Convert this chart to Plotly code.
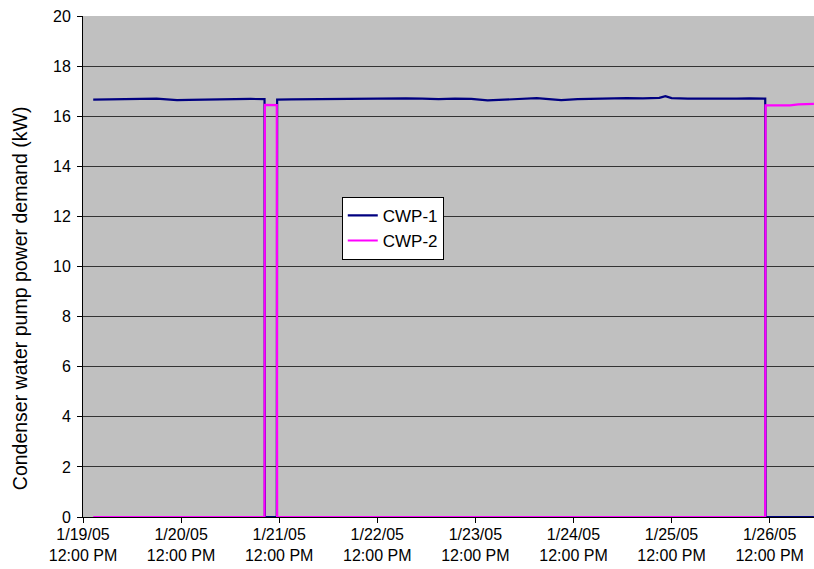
import plotly.graph_objects as go

# ---- data ----
cwp1_time = [
    "2005-01-19 14:30", "2005-01-19 18:00", "2005-01-19 21:00", "2005-01-20 00:00",
    "2005-01-20 03:00", "2005-01-20 06:00", "2005-01-20 08:30", "2005-01-20 11:00",
    "2005-01-20 14:00", "2005-01-20 17:00", "2005-01-20 20:00", "2005-01-20 23:00",
    "2005-01-21 02:00", "2005-01-21 05:00", "2005-01-21 08:25", "2005-01-21 08:30",
    "2005-01-21 11:25", "2005-01-21 11:30", "2005-01-21 15:00", "2005-01-21 19:00",
    "2005-01-21 23:00", "2005-01-22 03:00", "2005-01-22 07:00", "2005-01-22 11:00",
    "2005-01-22 15:00", "2005-01-22 19:00", "2005-01-22 23:00", "2005-01-23 03:00",
    "2005-01-23 07:00", "2005-01-23 11:00", "2005-01-23 15:00", "2005-01-23 19:00",
    "2005-01-23 23:00", "2005-01-24 03:00", "2005-01-24 06:00", "2005-01-24 09:00",
    "2005-01-24 13:00", "2005-01-24 17:00", "2005-01-24 21:00", "2005-01-25 01:00",
    "2005-01-25 05:00", "2005-01-25 09:00", "2005-01-25 10:30", "2005-01-25 12:00",
    "2005-01-25 16:00", "2005-01-25 20:00", "2005-01-26 00:00", "2005-01-26 04:00",
    "2005-01-26 07:00", "2005-01-26 10:55", "2005-01-26 11:00", "2005-01-26 22:50",
]
cwp1_kw = [
    16.66, 16.67, 16.68, 16.70,
    16.71, 16.70, 16.67, 16.64,
    16.65, 16.66, 16.67, 16.69,
    16.70, 16.69, 16.68, 0.0,
    0.0, 16.66, 16.67, 16.68,
    16.69, 16.70, 16.70, 16.71,
    16.70, 16.71, 16.70, 16.68,
    16.70, 16.69, 16.63, 16.66,
    16.69, 16.72, 16.68, 16.64,
    16.68, 16.70, 16.72, 16.72,
    16.71, 16.73, 16.80, 16.72,
    16.70, 16.69, 16.69, 16.70,
    16.71, 16.70, 0.0, 0.0,
]

cwp2_time = [
    "2005-01-19 14:30", "2005-01-21 08:25", "2005-01-21 08:30", "2005-01-21 10:00",
    "2005-01-21 11:25", "2005-01-21 11:30", "2005-01-26 10:55", "2005-01-26 11:00",
    "2005-01-26 13:00", "2005-01-26 15:00", "2005-01-26 17:00", "2005-01-26 19:00",
    "2005-01-26 21:00", "2005-01-26 22:50",
]
cwp2_kw = [
    0.0, 0.0, 16.45, 16.43,
    16.44, 0.0, 0.0, 16.43,
    16.42, 16.44, 16.43, 16.47,
    16.48, 16.49,
]

tick_vals = [
    "2005-01-19 12:00", "2005-01-20 12:00", "2005-01-21 12:00", "2005-01-22 12:00",
    "2005-01-23 12:00", "2005-01-24 12:00", "2005-01-25 12:00", "2005-01-26 12:00",
]
tick_text = [
    "1/19/05<br>12:00 PM", "1/20/05<br>12:00 PM", "1/21/05<br>12:00 PM", "1/22/05<br>12:00 PM",
    "1/23/05<br>12:00 PM", "1/24/05<br>12:00 PM", "1/25/05<br>12:00 PM", "1/26/05<br>12:00 PM",
]
x_range = ["2005-01-19 12:00", "2005-01-26 22:51"]
y_ticks = [0, 2, 4, 6, 8, 10, 12, 14, 16, 18, 20]

FONT = "Liberation Sans, Arial, sans-serif"

fig = go.Figure()
fig.add_trace(go.Scatter(x=cwp1_time, y=cwp1_kw, mode="lines", name="CWP-1",
                         line=dict(color="#000080", width=2.2)))
fig.add_trace(go.Scatter(x=cwp2_time, y=cwp2_kw, mode="lines", name="CWP-2",
                         line=dict(color="#FF00FF", width=2.2)))

fig.update_layout(
    width=814, height=569,
    margin=dict(l=83, r=0, t=16, b=52),
    paper_bgcolor="white",
    plot_bgcolor="#C0C0C0",
    font=dict(family=FONT, size=16, color="black"),
    showlegend=True,
    legend=dict(x=0.354, y=0.639, xanchor="left", yanchor="top",
                bgcolor="white", bordercolor="black", borderwidth=1,
                font=dict(size=17), tracegroupgap=0),
)
fig.update_xaxes(
    type="date", range=x_range, tickmode="array", tickvals=tick_vals, ticktext=tick_text,
    showgrid=False, showline=True, linecolor="black", linewidth=1,
    ticks="outside", ticklen=5, tickcolor="black", zeroline=False,
    tickfont=dict(size=16), ticklabelstandoff=-2,
)
fig.update_yaxes(
    range=[0, 20], tickmode="array", tickvals=y_ticks,
    showgrid=True, gridcolor="#333333", gridwidth=1.2,
    showline=True, linecolor="black", linewidth=1,
    ticks="outside", ticklen=5, tickcolor="black", zeroline=False,
    tickfont=dict(size=16), ticklabelstandoff=3,
)
fig.add_annotation(
    text="Condenser water pump power demand (kW)", textangle=-90,
    xref="paper", yref="paper", x=-0.086, y=0.437, xanchor="center", yanchor="middle",
    showarrow=False, font=dict(size=19.5, family=FONT),
)

fig.write_html("out.html")
